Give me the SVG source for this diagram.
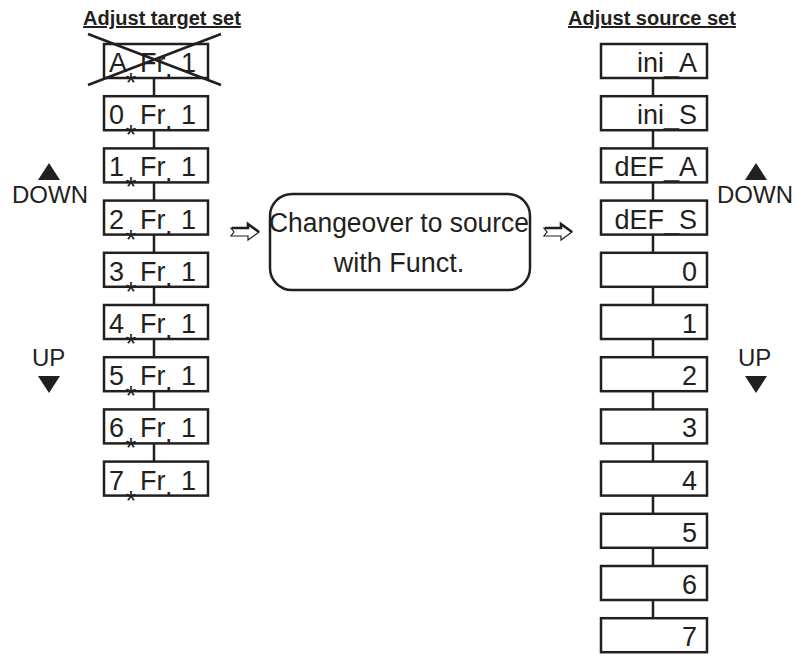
<svg xmlns="http://www.w3.org/2000/svg" width="796" height="659" viewBox="0 0 796 659">
<style>
.bx{fill:#fff;stroke:#231f20;stroke-width:2.5}
.ln{stroke:#231f20;stroke-width:2.5;fill:none}
.t{font-family:"Liberation Sans",Arial,sans-serif;font-size:27px;fill:#231f20}
.r{text-anchor:end}
.as{font-size:28px}
.h{font-family:"Liberation Sans",Arial,sans-serif;font-size:20px;font-weight:bold;fill:#231f20;text-decoration:underline;text-anchor:middle}
.lb{font-family:"Liberation Sans",Arial,sans-serif;font-size:24px;fill:#231f20}
.c{font-family:"Liberation Sans",Arial,sans-serif;font-size:27px;fill:#231f20;text-anchor:middle}
.tri{fill:#231f20}
.ar{fill:#fff;stroke:#231f20;stroke-width:1.2;stroke-linejoin:miter}
.arh{fill:none;stroke:#231f20;stroke-width:2.6}
</style>

<text class="h" x="162" y="25">Adjust target set</text>
<text class="h" x="652" y="25">Adjust source set</text>

<g id="connectors">
<line class="ln" x1="154" y1="60" x2="154" y2="480"/>
<line class="ln" x1="653" y1="60" x2="653" y2="640"/>
</g>

<g id="arrow-left">
<polygon class="ar" points="231,228 248,228 248,224 259,232 248,240 248,236 231,236 234,232"/>
<polyline class="arh" points="232,228 248,228 248,224 259,232"/>
</g>
<g id="arrow-right">
<polygon class="ar" points="544,228 561,228 561,224 572,232 561,240 561,236 544,236 547,232"/>
<polyline class="arh" points="545,228 561,228 561,224 572,232"/>
</g>

<g id="node-changeover">
<rect class="bx" x="270" y="194" width="260" height="96" rx="22"/>
<text class="c" x="399" y="232" textLength="260" lengthAdjust="spacingAndGlyphs">Changeover to source</text>
<text class="c" x="399" y="272">with Funct.</text>
</g>

<g id="node-A">
<rect class="bx" x="104" y="44" width="104" height="34"/>
<text class="t" x="109" y="72">A<tspan class="as" x="125.5" y="92">*</tspan><tspan x="140" y="72">Fr</tspan><tspan x="165" y="77">.</tspan><tspan x="181" y="72">1</tspan></text>
<line class="ln" x1="88" y1="34" x2="221" y2="85"/>
<line class="ln" x1="221" y1="34" x2="88" y2="85"/>
</g>
<g id="node-0Fr1">
<rect class="bx" x="104" y="96.2" width="104" height="34"/>
<text class="t" x="109" y="124.2">0<tspan class="as" x="125.5" y="144.2">*</tspan><tspan x="140" y="124.2">Fr</tspan><tspan x="165" y="129.2">.</tspan><tspan x="181" y="124.2">1</tspan></text>
</g>
<g id="node-1Fr1">
<rect class="bx" x="104" y="148.4" width="104" height="34"/>
<text class="t" x="109" y="176.4">1<tspan class="as" x="125.5" y="196.4">*</tspan><tspan x="140" y="176.4">Fr</tspan><tspan x="165" y="181.4">.</tspan><tspan x="181" y="176.4">1</tspan></text>
</g>
<g id="node-2Fr1">
<rect class="bx" x="104" y="200.6" width="104" height="34"/>
<text class="t" x="109" y="228.6">2<tspan class="as" x="125.5" y="248.6">*</tspan><tspan x="140" y="228.6">Fr</tspan><tspan x="165" y="233.6">.</tspan><tspan x="181" y="228.6">1</tspan></text>
</g>
<g id="node-3Fr1">
<rect class="bx" x="104" y="252.8" width="104" height="34"/>
<text class="t" x="109" y="280.8">3<tspan class="as" x="125.5" y="300.8">*</tspan><tspan x="140" y="280.8">Fr</tspan><tspan x="165" y="285.8">.</tspan><tspan x="181" y="280.8">1</tspan></text>
</g>
<g id="node-4Fr1">
<rect class="bx" x="104" y="305" width="104" height="34"/>
<text class="t" x="109" y="333">4<tspan class="as" x="125.5" y="353">*</tspan><tspan x="140" y="333">Fr</tspan><tspan x="165" y="338">.</tspan><tspan x="181" y="333">1</tspan></text>
</g>
<g id="node-5Fr1">
<rect class="bx" x="104" y="357.2" width="104" height="34"/>
<text class="t" x="109" y="385.2">5<tspan class="as" x="125.5" y="405.2">*</tspan><tspan x="140" y="385.2">Fr</tspan><tspan x="165" y="390.2">.</tspan><tspan x="181" y="385.2">1</tspan></text>
</g>
<g id="node-6Fr1">
<rect class="bx" x="104" y="409.4" width="104" height="34"/>
<text class="t" x="109" y="437.4">6<tspan class="as" x="125.5" y="457.4">*</tspan><tspan x="140" y="437.4">Fr</tspan><tspan x="165" y="442.4">.</tspan><tspan x="181" y="437.4">1</tspan></text>
</g>
<g id="node-7Fr1">
<rect class="bx" x="104" y="461.6" width="104" height="34"/>
<text class="t" x="109" y="489.6">7<tspan class="as" x="125.5" y="509.6">*</tspan><tspan x="140" y="489.6">Fr</tspan><tspan x="165" y="494.6">.</tspan><tspan x="181" y="489.6">1</tspan></text>
</g>

<g id="node-ini_A"><rect class="bx" x="601" y="44" width="106" height="34"/><text class="t r" x="697" y="72">ini_A</text></g>
<g id="node-ini_S"><rect class="bx" x="601" y="96.2" width="106" height="34"/><text class="t r" x="697" y="124.2">ini_S</text></g>
<g id="node-dEF_A"><rect class="bx" x="601" y="148.4" width="106" height="34"/><text class="t r" x="697" y="176.4">dEF_A</text></g>
<g id="node-dEF_S"><rect class="bx" x="601" y="200.6" width="106" height="34"/><text class="t r" x="697" y="228.6">dEF_S</text></g>
<g id="node-0"><rect class="bx" x="601" y="252.8" width="106" height="34"/><text class="t r" x="697" y="280.8">0</text></g>
<g id="node-1"><rect class="bx" x="601" y="305" width="106" height="34"/><text class="t r" x="697" y="333">1</text></g>
<g id="node-2"><rect class="bx" x="601" y="357.2" width="106" height="34"/><text class="t r" x="697" y="385.2">2</text></g>
<g id="node-3"><rect class="bx" x="601" y="409.4" width="106" height="34"/><text class="t r" x="697" y="437.4">3</text></g>
<g id="node-4"><rect class="bx" x="601" y="461.6" width="106" height="34"/><text class="t r" x="697" y="489.6">4</text></g>
<g id="node-5"><rect class="bx" x="601" y="513.8" width="106" height="34"/><text class="t r" x="697" y="541.8">5</text></g>
<g id="node-6"><rect class="bx" x="601" y="566" width="106" height="34"/><text class="t r" x="697" y="594">6</text></g>
<g id="node-7"><rect class="bx" x="601" y="618.2" width="106" height="34"/><text class="t r" x="697" y="646.2">7</text></g>

<g id="left-keys">
<polygon class="tri" points="38,180 60,180 49,163"/>
<text class="lb" x="12" y="203" textLength="76" lengthAdjust="spacingAndGlyphs">DOWN</text>
<text class="lb" x="32" y="366">UP</text>
<polygon class="tri" points="38,376 60,376 49,393"/>
</g>
<g id="right-keys">
<polygon class="tri" points="745,180 767,180 756,163"/>
<text class="lb" x="717" y="203" textLength="76" lengthAdjust="spacingAndGlyphs">DOWN</text>
<text class="lb" x="738" y="366">UP</text>
<polygon class="tri" points="745,376 767,376 756,393"/>
</g>
</svg>
